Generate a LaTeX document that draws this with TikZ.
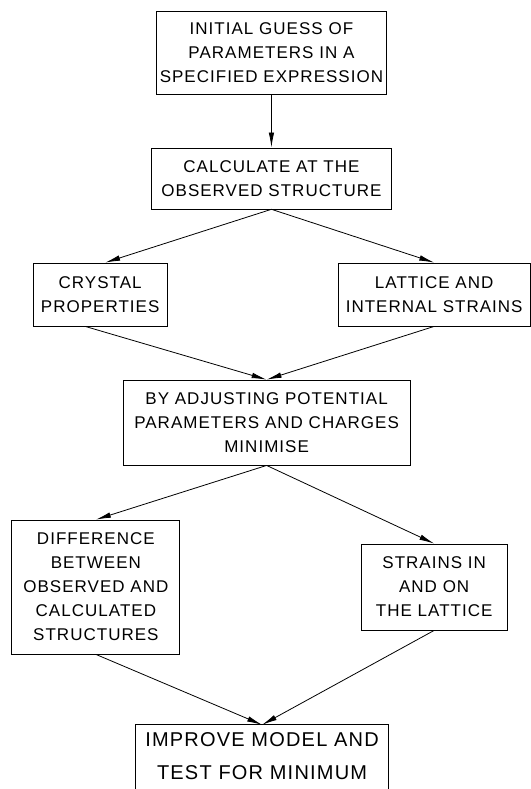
\documentclass[tikz,border=0pt]{standalone}
\usepackage{fontspec}
\setmainfont{Liberation Sans}[LetterSpace=6]
\usepackage{tikz}
\usetikzlibrary{positioning,arrows.meta}

\begin{document}
\begin{tikzpicture}[
      font=\fontsize{17}{24}\selectfont, >={Latex[length=15pt,width=5.5pt]},
      blk/.style={draw, line width=0.8pt, align=center, inner sep=2pt},
      bigtxt/.style={align=center, inner sep=2pt, font=\fontsize{20}{33}\selectfont},
      ar/.style={->, line width=0.8pt}
    ]
    \useasboundingbox (0,0) rectangle (18.66,-27.73);

    % ===== start =====
    \node[blk, minimum width=230pt, minimum height=83pt] (guess) at (9.54,-1.85)
      {INITIAL GUESS OF\\PARAMETERS IN A\\SPECIFIED EXPRESSION};
    \node[blk, minimum width=240pt, minimum height=61pt] (calc) at (9.54,-6.27)
      {CALCULATE AT THE\\OBSERVED STRUCTURE};

    % ===== first split =====
    \node[blk, minimum width=134pt, minimum height=63pt] (cryst) at (3.52,-10.35)
      {CRYSTAL\\PROPERTIES};
    \node[blk, minimum width=192pt, minimum height=63pt] (latt) at (15.26,-10.35)
      {LATTICE AND\\INTERNAL STRAINS};
    \node[blk, minimum width=287pt, minimum height=85pt] (mini) at (9.37,-14.85)
      {BY ADJUSTING POTENTIAL\\PARAMETERS AND CHARGES\\MINIMISE};

    % ===== second split =====
    \node[blk, minimum width=168pt, minimum height=134pt] (diff) at (3.37,-20.63)
      {DIFFERENCE\\BETWEEN\\OBSERVED AND\\CALCULATED\\STRUCTURES};
    \node[blk, minimum width=146pt, minimum height=86pt] (strn) at (15.26,-20.63)
      {STRAINS IN\\AND ON\\THE LATTICE};

    % ===== end (cut off at the bottom) =====
    \node[bigtxt, minimum width=252pt, minimum height=62pt] (impr) at (9.21,-26.57)
      {IMPROVE MODEL AND\\TEST FOR MINIMUM};
    \draw[line width=0.8pt] ([yshift=-12pt]impr.south west) -- (impr.north west)
      -- (impr.north east) -- ([yshift=-12pt]impr.south east);

    % ===== flow =====
    \draw[ar] (guess.south) -- (calc.north);
    \draw[ar] (calc.south) -- ([xshift=5pt]cryst.north);
    \draw[ar] (calc.south) -- (latt.north);
    \draw[ar] ([xshift=-15pt]cryst.south) -- (mini.north);
    \draw[ar] (latt.south) -- (mini.north);
    \draw[ar] (mini.south) -- (diff.north);
    \draw[ar] (mini.south) -- (strn.north);
    \draw[ar] (diff.south) -- (impr.north);
    \draw[ar] (strn.south) -- (impr.north);
\end{tikzpicture}
\end{document}
